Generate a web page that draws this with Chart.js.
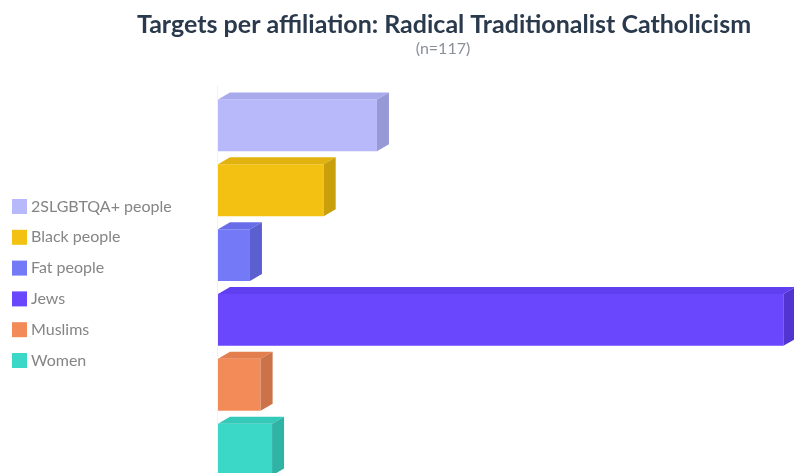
<!DOCTYPE html>
<html>
<head>
<meta charset="utf-8">
<script src="https://cdn.jsdelivr.net/npm/chart.js@4/dist/chart.umd.min.js"></script>
<style>
  html, body { margin: 0; padding: 0; background: #ffffff; overflow: hidden; }
  #wrap { position: relative; width: 794px; height: 473px; overflow: hidden; }
  canvas { display: block; }
</style>
</head>
<body>
<div id="wrap"><canvas id="c" width="794" height="482"></canvas></div>
<script>
// ---- data ----
const titleText = "Targets per affiliation: Radical Traditionalist Catholicism";
const subtitleText = "(n=117)";
const categories = ["2SLGBTQA+ people", "Black people", "Fat people", "Jews", "Muslims", "Women"];
const values = [19.4, 12.9, 3.9, 69, 5.2, 6.6];
const frontColors = ["#b7b9fa", "#f2c112", "#7479f7", "#6a47fd", "#f28b57", "#3bd8c8"];
const topColors   = ["#a8aaeb", "#e2b30f", "#686ce8", "#5f3ff0", "#e37f4f", "#35c9b9"];
const sideColors  = ["#9799d6", "#c9a00c", "#5b5fd0", "#5234d0", "#cc7248", "#2eb3a5"];

const depthX = 12, depthY = 7;

const bar3d = {
  id: 'bar3d',
  beforeDatasetsDraw(chart) {
    const ctx = chart.ctx;
    const xs = chart.scales.x;
    const x0 = xs.getPixelForValue(0) - 0.5;
    ctx.save();
    ctx.strokeStyle = '#f2f2f2';
    ctx.lineWidth = 1;
    ctx.beginPath();
    ctx.moveTo(x0, chart.chartArea.top - 8);
    ctx.lineTo(x0, chart.chartArea.bottom);
    ctx.stroke();
    ctx.restore();
  },
  afterDatasetsDraw(chart) {
    const ctx = chart.ctx;
    const meta = chart.getDatasetMeta(0);
    ctx.save();
    meta.data.forEach((bar, i) => {
      const p = bar.getProps(['x', 'y', 'base', 'height'], true);
      const left = Math.min(p.base, p.x), right = Math.max(p.base, p.x);
      const top = p.y - p.height / 2, bottom = p.y + p.height / 2;
      // top face
      ctx.fillStyle = topColors[i];
      ctx.beginPath();
      ctx.moveTo(left, top);
      ctx.lineTo(left + depthX, top - depthY);
      ctx.lineTo(right + depthX, top - depthY);
      ctx.lineTo(right, top);
      ctx.closePath();
      ctx.fill();
      // side face
      ctx.fillStyle = sideColors[i];
      ctx.beginPath();
      ctx.moveTo(right, top);
      ctx.lineTo(right + depthX, top - depthY);
      ctx.lineTo(right + depthX, bottom - depthY);
      ctx.lineTo(right, bottom);
      ctx.closePath();
      ctx.fill();
    });
    ctx.restore();
  }
};

const textPlugin = {
  id: 'texts',
  afterDraw(chart) {
    const ctx = chart.ctx;
    ctx.save();
    // title
    ctx.textAlign = 'center';
    ctx.textBaseline = 'alphabetic';
    ctx.fillStyle = '#2a3a4c';
    ctx.font = 'bold 25px Lato, "Open Sans", sans-serif';
    ctx.fillText(titleText, 444, 32.5);
    ctx.fillStyle = '#8a8f99';
    ctx.font = '16px Lato, "Open Sans", sans-serif';
    ctx.fillText(subtitleText, 443, 54);
    // legend
    ctx.textAlign = 'left';
    ctx.textBaseline = 'alphabetic';
    ctx.font = '16px Lato, "Open Sans", sans-serif';
    const startY = 206.5, step = 30.8;
    categories.forEach((lab, i) => {
      const cy = startY + i * step;
      ctx.fillStyle = frontColors[i];
      ctx.fillRect(12, cy - 7.5, 15, 15);
      ctx.fillStyle = '#858585';
      ctx.fillText(lab, 31, cy + 5);
    });
    ctx.restore();
  }
};

new Chart(document.getElementById('c'), {
  type: 'bar',
  data: {
    labels: categories,
    datasets: [{
      data: values,
      backgroundColor: frontColors,
      borderWidth: 0,
      categoryPercentage: 0.8,
      barPercentage: 1.0
    }]
  },
  options: {
    indexAxis: 'y',
    responsive: false,
    devicePixelRatio: 1,
    animation: false,
    layout: { padding: { left: 218, top: 93, right: 0, bottom: 0 } },
    plugins: {
      legend: { display: false },
      title: { display: false },
      tooltip: { enabled: false }
    },
    scales: {
      x: { display: false, min: 0, max: 70.3 },
      y: { display: false }
    }
  },
  plugins: [bar3d, textPlugin]
});
</script>
</body>
</html>
